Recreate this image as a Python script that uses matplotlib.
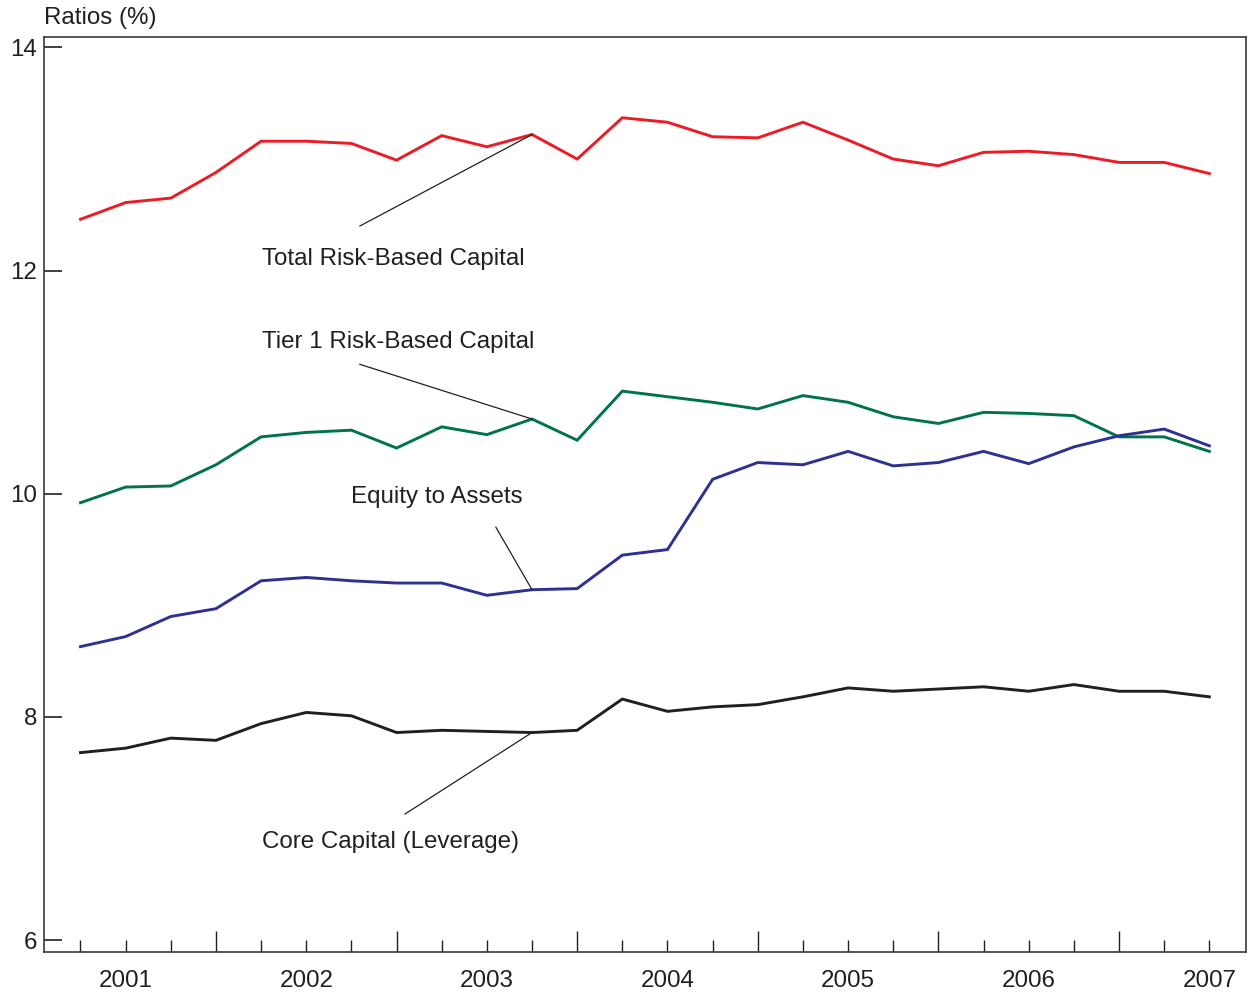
import matplotlib
matplotlib.use("Agg")
import matplotlib.pyplot as plt
from matplotlib.ticker import FixedLocator, FixedFormatter

plt.rcParams['font.family'] = ['Liberation Sans', 'DejaVu Sans']

# Quarterly observations, 2001Q1 .. 2007Q2
years    = [2001]*4 + [2002]*4 + [2003]*4 + [2004]*4 + [2005]*4 + [2006]*4 + [2007]*2
quarters = [1, 2, 3, 4]*6 + [1, 2]

total_rbc = [12.46, 12.61, 12.65, 12.88, 13.16, 13.16, 13.14, 12.99, 13.21, 13.11, 13.22, 13.00,
             13.37, 13.33, 13.20, 13.19, 13.33, 13.17, 13.00, 12.94, 13.06, 13.07, 13.04, 12.97,
             12.97, 12.87]
tier1_rbc = [9.92, 10.06, 10.07, 10.26, 10.51, 10.55, 10.57, 10.41, 10.60, 10.53, 10.67, 10.48,
             10.92, 10.87, 10.82, 10.76, 10.88, 10.82, 10.69, 10.63, 10.73, 10.72, 10.70, 10.51,
             10.51, 10.38]
equity_assets = [8.63, 8.72, 8.90, 8.97, 9.22, 9.25, 9.22, 9.20, 9.20, 9.09, 9.14, 9.15,
                 9.45, 9.50, 10.13, 10.28, 10.26, 10.38, 10.25, 10.28, 10.38, 10.27, 10.42, 10.52,
                 10.58, 10.43]
core_capital = [7.68, 7.72, 7.81, 7.79, 7.94, 8.04, 8.01, 7.86, 7.88, 7.87, 7.86, 7.88,
                8.16, 8.05, 8.09, 8.11, 8.18, 8.26, 8.23, 8.25, 8.27, 8.23, 8.29, 8.23,
                8.23, 8.18]

year_labels = ['2001', '2002', '2003', '2004', '2005', '2006', '2007']
y_ticks = [6, 8, 10, 12, 14]

x = [y + q / 4 for y, q in zip(years, quarters)]

RED = '#ED1C24'
GREEN = '#00734A'
BLUE = '#2E3192'
BLACK = '#231F20'

FS = 17.4

fig = plt.figure(figsize=(12.48, 9.96), dpi=100)
ax = fig.add_axes([44/1248, 44/996, (1246-44)/1248, (952-37)/996])

lw = 2.1
ax.plot(x, total_rbc, color=RED, lw=lw, solid_joinstyle='miter')
ax.plot(x, tier1_rbc, color=GREEN, lw=lw, solid_joinstyle='miter')
ax.plot(x, equity_assets, color=BLUE, lw=lw, solid_joinstyle='miter')
ax.plot(x, core_capital, color=BLACK, lw=lw, solid_joinstyle='miter')

ax.set_xlim(2001.048, 2007.703)
ax.set_ylim(5.893, 14.094)

# y axis
ax.set_yticks(y_ticks)
ax.set_yticklabels([str(v) for v in y_ticks])
ax.tick_params(axis='y', direction='in', length=13, width=1.2, pad=5,
               labelsize=FS, colors=BLACK, right=False)

# x axis: tall ticks at year boundaries, short ticks at quarters, labels mid-year
major_pos = [float(int(l)) for l in year_labels[1:]]
minor_pos = []
minor_lab = []
for l in year_labels:
    for f in (0.25, 0.5, 0.75):
        p = int(l) + f
        if p <= 2007.5:
            minor_pos.append(p)
            minor_lab.append(l if f == 0.5 else '')
ax.xaxis.set_major_locator(FixedLocator(major_pos))
ax.xaxis.set_major_formatter(FixedFormatter([''] * len(major_pos)))
ax.xaxis.set_minor_locator(FixedLocator(minor_pos))
ax.xaxis.set_minor_formatter(FixedFormatter(minor_lab))
ax.tick_params(axis='x', which='major', direction='in', length=15, width=1.0, colors=BLACK)
ax.tick_params(axis='x', which='minor', direction='in', length=8.5, width=1.0,
               pad=13, labelsize=FS, colors=BLACK)

for s in ax.spines.values():
    s.set_color('#3a3a3a')
    s.set_linewidth(1.2)

# annotations
tc = BLACK
ax.plot([2002.797, 2003.75], [12.40, 13.22], color=tc, lw=0.9)
ax.text(2002.255, 12.10, 'Total Risk-Based Capital', fontsize=FS, color=tc, va='center', ha='left')

ax.plot([2002.797, 2003.75], [11.16, 10.67], color=tc, lw=0.9)
ax.text(2002.255, 11.36, 'Tier 1 Risk-Based Capital', fontsize=FS, color=tc, va='center', ha='left')

ax.plot([2003.55, 2003.75], [9.70, 9.14], color=tc, lw=0.9)
ax.text(2003.223, 9.97, 'Equity to Assets', fontsize=FS, color=tc, va='center', ha='center')

ax.plot([2003.047, 2003.75], [7.13, 7.86], color=tc, lw=0.9)
ax.text(2002.255, 6.88, 'Core Capital (Leverage)', fontsize=FS, color=tc, va='center', ha='left')

fig.text(44/1248, 1 - 18/996, 'Ratios (%)', fontsize=FS, color=tc, va='center', ha='left')

fig.savefig('out.png', dpi=100)
